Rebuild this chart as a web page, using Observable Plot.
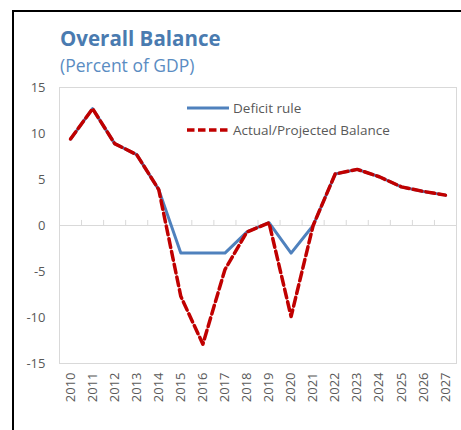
<!DOCTYPE html>
<html>
<head>
<meta charset="utf-8">
<script src="https://cdn.jsdelivr.net/npm/d3@7"></script>
<script src="https://cdn.jsdelivr.net/npm/@observablehq/plot@0.6"></script>
<style>
  html, body { margin: 0; padding: 0; background: #fff; }
  #wrap { position: relative; width: 461px; height: 430px; overflow: hidden; font-family: "Open Sans", sans-serif; }
  #border { position: absolute; left: 12px; top: 10px; width: 470px; height: 440px; border-left: 2px solid #000; border-top: 2px solid #000; box-sizing: border-box; }
  #overlay { position: absolute; left: 0; top: 0; }
  #chart { position: absolute; left: 0; top: 0; }
</style>
</head>
<body>
<div id="wrap">
  <div id="chart"></div>
  <div id="border"></div>
  <svg id="overlay" width="461" height="430"></svg>
</div>
<script>
const title = "Overall Balance";
const subtitle = "(Percent of GDP)";
const seriesNames = ["Deficit rule", "Actual/Projected Balance"];
const years = [2010, 2011, 2012, 2013, 2014, 2015, 2016, 2017, 2018, 2019, 2020, 2021, 2022, 2023, 2024, 2025, 2026, 2027];
const deficitRule = [9.4, 12.7, 8.9, 7.7, 3.9, -3.0, -3.0, -3.0, -0.7, 0.3, -3.0, 0.0, 5.6, 6.1, 5.3, 4.2, 3.7, 3.3];
const actual = [9.4, 12.7, 8.9, 7.7, 3.9, -7.7, -12.9, -4.8, -0.7, 0.3, -9.9, 0.0, 5.6, 6.1, 5.3, 4.2, 3.7, 3.3];
const yTicks = [-15, -10, -5, 0, 5, 10, 15];

const blue = "#4f81bd";
const red = "#c00000";
const gray = "#d9d9d9";
const textGray = "#595959";

const rule = years.map((y, i) => ({year: y, value: deficitRule[i]}));
const act = years.map((y, i) => ({year: y, value: actual[i]}));
const boundaries = years.slice(1).map(y => y - 0.5);

const plot = Plot.plot({
  width: 461,
  height: 430,
  marginLeft: 59,
  marginRight: 5,
  marginTop: 87,
  marginBottom: 67,
  style: {fontFamily: "Open Sans, sans-serif", fontSize: "13px", color: textGray, background: "transparent"},
  x: {domain: [years[0] - 0.5, years[years.length - 1] + 0.5]},
  y: {domain: [-15, 15]},
  marks: [
    Plot.frame({stroke: gray}),
    Plot.ruleY([0], {stroke: gray}),
    Plot.ruleX(boundaries, {x: d => d, y1: 0, y2: 0.55, stroke: gray}),
    Plot.axisY({ticks: yTicks, tickSize: 0, tickPadding: 14, tickFormat: d => String(d), fill: textGray, label: null}),
    Plot.axisX({ticks: years, tickSize: 0, tickPadding: 9, tickRotate: -90, tickFormat: d => String(d), fill: textGray, label: null}),
    Plot.line(rule, {x: "year", y: "value", stroke: blue, strokeWidth: 3}),
    Plot.line(act, {x: "year", y: "value", stroke: red, strokeWidth: 3.5, strokeDasharray: "9,4"})
  ]
});
document.getElementById("chart").appendChild(plot);

// title, subtitle, legend
const ov = d3.select("#overlay");
ov.append("text").attr("x", 60).attr("y", 46).attr("fill", "#4a7bb0")
  .attr("font-family", "Open Sans, sans-serif").attr("font-weight", "bold").attr("font-size", 20.5).text(title);
ov.append("text").attr("x", 60).attr("y", 72).attr("fill", "#5a8cc2")
  .attr("font-family", "Open Sans, sans-serif").attr("font-size", 17.5).text(subtitle);
const legendRows = [
  {name: seriesNames[0], stroke: blue, dash: null, y: 108},
  {name: seriesNames[1], stroke: red, dash: "7.5,3.5", y: 130}
];
legendRows.forEach(r => {
  const ln = ov.append("line").attr("x1", 187).attr("x2", 229).attr("y1", r.y).attr("y2", r.y)
    .attr("stroke", r.stroke).attr("stroke-width", r.dash ? 3.5 : 3);
  if (r.dash) ln.attr("stroke-dasharray", r.dash);
  ov.append("text").attr("x", 233).attr("y", r.y + 5).attr("fill", textGray)
    .attr("font-family", "Open Sans, sans-serif").attr("font-size", 13.5).text(r.name);
});
</script>
</body>
</html>
